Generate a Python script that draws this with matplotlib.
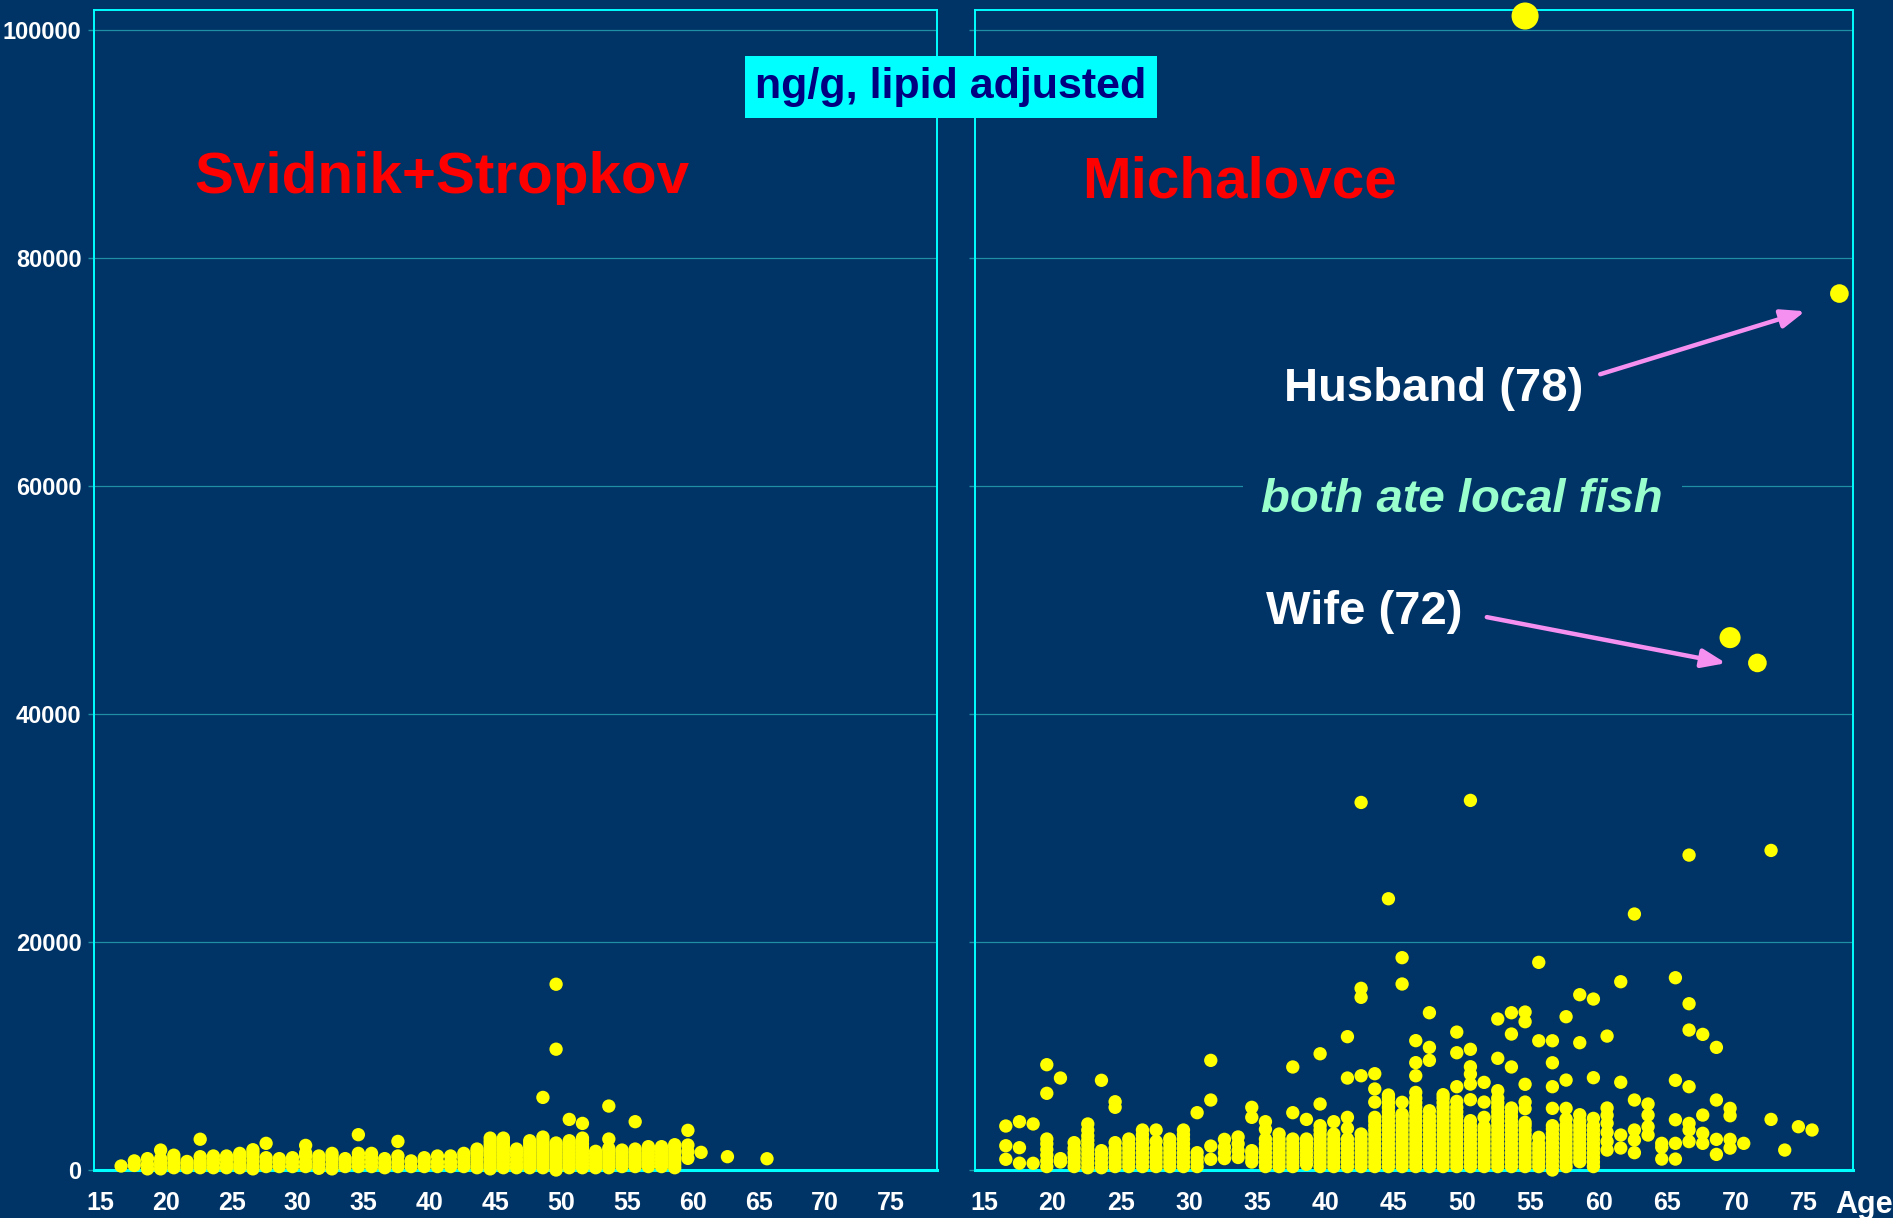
import numpy as np
import matplotlib
matplotlib.use('Agg')
import matplotlib.pyplot as plt
from matplotlib import font_manager as fm

# Fuente tipo Arial (Liberation Sans tiene las mismas metricas)
plt.rcParams['font.family'] = ['Liberation Sans', 'DejaVu Sans']

# version estrecha para los numeros del eje x, si esta instalada
_names = {f.name for f in fm.fontManager.ttflist}
NARROW = 'Liberation Sans Narrow' if 'Liberation Sans Narrow' in _names else None

# ---------------- datos ----------------
# Svidnik + Stropkov: edad y valores (ng/g lipidos) de cada columna
svid_ages = [17, 18, 19, 20, 21, 22, 23, 24, 25, 26, 27, 28, 29, 30, 31, 32, 33, 34,
             35, 36, 37, 38, 39, 40, 41, 42, 43, 44, 45, 46, 47, 48, 49, 50, 51, 52,
             53, 54, 55, 56, 57, 58, 59, 60, 61, 63, 66]
svid_vals = [
    [350],
    [400, 800],
    [100, 500, 1000],
    [100, 400, 700, 1000, 1750],
    [200, 600, 1000, 1300],
    [200, 500, 750],
    [200, 500, 800, 1170, 2700],
    [200, 600, 900, 1230],
    [200, 500, 900, 1230],
    [200, 500, 900, 1200, 1460],
    [100, 400, 800, 1200, 1500, 1780],
    [300, 700, 1080, 2340],
    [300, 700, 1000],
    [300, 700, 1080],
    [300, 700, 1200, 1500, 2160],
    [150, 500, 900, 1230],
    [100, 500, 900, 1200, 1460],
    [300, 700, 1000],
    [300, 700, 1100, 1460, 3100],
    [300, 700, 1100, 1460],
    [200, 600, 1000],
    [300, 700, 1230, 2510],
    [300, 800],
    [300, 700, 1080],
    [300, 700, 1230],
    [300, 700, 1230],
    [300, 700, 1100, 1460],
    [200, 500, 900, 1300, 1600, 1840],
    [100, 400, 700, 1000, 1300, 1600, 1900, 2200, 2500, 2800],
    [200, 500, 800, 1100, 1400, 1700, 2000, 2300, 2600, 2800],
    [200, 500, 900, 1300, 1600, 1840],
    [200, 500, 800, 1100, 1400, 1700, 2000, 2300, 2570],
    [200, 500, 800, 1100, 1400, 1700, 2000, 2300, 2600, 2890, 6370],
    [0, 300, 600, 900, 1200, 1500, 1800, 2100, 2370, 10600, 16300],
    [200, 500, 800, 1100, 1400, 1700, 2000, 2300, 2570, 4440],
    [200, 500, 800, 1100, 1400, 1700, 2000, 2300, 2600, 2800, 4090],
    [200, 500, 800, 1100, 1400, 1640],
    [200, 500, 800, 1100, 1400, 1700, 1900, 2720, 5610],
    [300, 600, 900, 1200, 1500, 1750],
    [300, 600, 900, 1200, 1500, 1840, 4240],
    [300, 600, 900, 1200, 1500, 1800, 2050],
    [300, 600, 900, 1200, 1500, 1800, 2050],
    [200, 500, 800, 1100, 1400, 1700, 2000, 2220],
    [1020, 1610, 2190, 3480],
    [1550],
    [1170],
    [990],
]

# Michalovce
mich_ages = [17, 18, 19, 20, 21, 22, 23, 24, 25, 26, 27, 28, 29, 30, 31, 32, 33, 34,
             35, 36, 37, 38, 39, 40, 41, 42, 43, 44, 45, 46, 47, 48, 49, 50, 51, 52,
             53, 54, 55, 56, 57, 58, 59, 60, 61, 62, 63, 64, 65, 66, 67, 68, 69, 70,
             71, 73, 74, 75, 76]
mich_vals = [
    [940, 2130, 3860],
    [600, 1960, 4240],
    [590, 4040],
    [300, 800, 1300, 1800, 2300, 2720, 6730, 9240],
    [700, 1000, 8070],
    [300, 700, 1100, 1500, 1900, 2400],
    [200, 600, 1000, 1400, 1800, 2200, 2600, 3000, 3500, 4040],
    [200, 600, 1000, 1400, 1700, 7870],
    [300, 700, 1100, 1500, 1900, 2400, 5500, 5990],
    [300, 700, 1100, 1500, 1900, 2300, 2720],
    [300, 700, 1100, 1500, 1900, 2300, 2700, 3100, 3510],
    [300, 700, 1100, 1500, 1900, 2500, 3510],
    [300, 700, 1100, 1500, 1900, 2300, 2720],
    [300, 700, 1100, 1500, 1900, 2300, 2700, 3100, 3510],
    [300, 700, 1100, 1520, 5030],
    [940, 2100, 6140, 9620],
    [1000, 1500, 2000, 2690],
    [1100, 1700, 2300, 2900],
    [700, 1100, 1500, 1700, 4620, 5500],
    [300, 700, 1100, 1500, 1900, 2300, 2720, 3570, 4240],
    [300, 700, 1100, 1500, 1900, 2300, 2700, 3160],
    [300, 700, 1100, 1500, 1900, 2300, 2720, 5030, 9040],
    [500, 900, 1300, 1700, 2100, 2400, 2720, 4440],
    [300, 700, 1100, 1500, 1900, 2300, 2700, 3100, 3500, 3890, 5790, 10200],
    [300, 700, 1100, 1500, 1900, 2300, 2700, 3160, 4240],
    [300, 700, 1100, 1500, 1900, 2300, 2720, 3660, 4620, 8070, 11700],
    [300, 700, 1100, 1500, 1900, 2300, 2700, 3160, 8270, 15150, 15940, 32250],
    [300, 700, 1100, 1500, 1900, 2300, 2700, 3100, 3500, 3900, 4300, 4620,
     5960, 7110, 8450],
    [300, 700, 1100, 1500, 1900, 2300, 2700, 3100, 3500, 3900, 4300, 4700,
     5100, 5500, 5900, 6300, 6580, 23800],
    [300, 700, 1100, 1500, 1900, 2300, 2700, 3100, 3500, 3900, 4300, 4700,
     4910, 5940, 16320, 18630],
    [300, 700, 1100, 1500, 1900, 2300, 2700, 3100, 3500, 3900, 4300, 4700,
     5100, 5500, 5900, 6300, 6810, 8270, 9420, 11350],
    [300, 700, 1100, 1500, 1900, 2300, 2700, 3100, 3500, 3900, 4300, 4700,
     5200, 9620, 10760, 13800],
    [300, 700, 1100, 1500, 1900, 2300, 2700, 3100, 3500, 3900, 4300, 4700,
     5100, 5500, 5900, 6300, 6610],
    [300, 700, 1100, 1500, 1900, 2300, 2700, 3100, 3500, 3900, 4300, 4700,
     5100, 5500, 6020, 7310, 10290, 12100],
    [300, 700, 1100, 1500, 1900, 2300, 2700, 3100, 3500, 3900, 4330, 6170,
     7540, 8420, 9060, 10590, 32430],
    [300, 700, 1100, 1500, 1900, 2300, 2700, 3100, 3500, 3800, 4620, 5960, 7690],
    [300, 700, 1100, 1500, 1900, 2300, 2700, 3100, 3500, 3900, 4300, 4700,
     5100, 5500, 5900, 6300, 6960, 9800, 13250],
    [300, 700, 1100, 1500, 1900, 2300, 2700, 3100, 3500, 3900, 4300, 4700,
     5100, 5440, 9040, 11930, 13800],
    [300, 700, 1100, 1500, 1900, 2300, 2700, 3100, 3500, 3900, 4180, 5380,
     5960, 7520, 13010, 13860],
    [300, 700, 1100, 1500, 1900, 2300, 2870, 11340, 18220],
    [0, 400, 800, 1200, 1600, 2000, 2400, 2800, 3200, 3600, 3890, 5410, 7310,
     9410, 11340],
    [300, 700, 1100, 1500, 1900, 2300, 2700, 3100, 3500, 3900, 4470, 5410,
     7890, 13450],
    [730, 1100, 1500, 1900, 2300, 2700, 3100, 3500, 3900, 4300, 4850, 11170,
     15380],
    [300, 700, 1100, 1500, 1900, 2300, 2700, 3100, 3500, 3900, 4530, 8100,
     15000],
    [1750, 2500, 3300, 4100, 4800, 5440, 11750],
    [1930, 3070, 7700, 16520],
    [1520, 2630, 3510, 6140, 22460],
    [3070, 3800, 4820, 5790],
    [960, 2000, 2340],
    [960, 2340, 4410, 7870, 16870],
    [2490, 3510, 4090, 7310, 12280, 14590, 27630],
    [2340, 3220, 4820, 11900],
    [1370, 2690, 6140, 10760],
    [1920, 2690, 4760, 5410],
    [2340],
    [4440, 28040],
    [1750],
    [3800],
    [3510],
]

# puntos destacados (mas grandes) en Michalovce
mich_big_ages = [55, 70, 72, 78]
mich_big_vals = [101250, 46710, 44490, 76900]

tick_ages = [15, 20, 25, 30, 35, 40, 45, 50, 55, 60, 65, 70, 75]
y_ticks = [0, 20000, 40000, 60000, 80000, 100000]

# ---------------- estilo ----------------
BG = '#003366'
FRAME = '#00FFFF'
GRID = '#1E8FA5'
YELLOW = '#FFFF00'
PINK = '#F590F0'

if NARROW:
    xfont = dict(family=[NARROW, 'Liberation Sans'], size=20, weight='bold')
    agefont = dict(family=[NARROW, 'Liberation Sans'], size=24, weight='bold')
else:
    xfont = dict(size=18, weight='bold')
    agefont = dict(size=22, weight='bold')


def flatten(ages, vals):
    """Convierte columnas (edad -> lista de valores) en pares x, y."""
    xs, ys = [], []
    for a, v in zip(ages, vals):
        xs += [a] * len(v)
        ys += v
    return xs, ys


def draw_panel(ax, ages, vals, xlim, show_ylabels):
    ax.set_facecolor(BG)
    xs, ys = flatten(ages, vals)
    ax.scatter(xs, ys, s=92, c=YELLOW, edgecolors='none', zorder=3, clip_on=False)

    ax.set_xlim(xlim)
    ax.set_ylim(0, 101800)

    # rejilla horizontal
    ax.set_yticks(y_ticks)
    ax.yaxis.grid(True, color=GRID, lw=0.9)
    ax.set_axisbelow(True)

    # etiquetas de edad ligeramente desplazadas a la derecha como en el original
    ax.set_xticks(np.array(tick_ages) + 0.4)
    ax.set_xticklabels([str(t) for t in tick_ages], fontdict=xfont)
    ax.tick_params(axis='x', length=0, pad=15, labelcolor='white')
    ax.tick_params(axis='y', length=4.5, width=1, color=GRID, pad=4.5,
                   labelcolor='white', labelsize=17)
    if show_ylabels:
        ax.set_yticklabels([str(v) for v in y_ticks], fontweight='bold')
    else:
        ax.set_yticklabels([])

    for side in ['left', 'right', 'top']:
        ax.spines[side].set_color(FRAME)
        ax.spines[side].set_linewidth(1.4)
    ax.spines['bottom'].set_color(FRAME)
    ax.spines['bottom'].set_linewidth(2.2)


fig = plt.figure(figsize=(18.93, 12.18), dpi=100, facecolor=BG)
ax1 = fig.add_axes([0.0497, 0.0394, 0.4453, 0.9526])
ax2 = fig.add_axes([0.5153, 0.0394, 0.4636, 0.9526])

draw_panel(ax1, svid_ages, svid_vals, (14.95, 78.9), True)
draw_panel(ax2, mich_ages, mich_vals, (14.78, 79.0), False)

# puntos grandes
ax2.scatter(mich_big_ages, mich_big_vals, s=[380, 230, 180, 180], c=YELLOW,
            edgecolors='none', zorder=4, clip_on=False)

# titulos de cada panel
ax1.text(41.35, 87050, 'Svidnik+Stropkov', color='red', fontsize=42,
         fontweight='bold', ha='center', va='center')
ax2.text(34.1, 86650, 'Michalovce', color='red', fontsize=42,
         fontweight='bold', ha='center', va='center')

# caja de unidades
fig.text(0.5024, 0.9285, 'ng/g, lipid adjusted', color='#000080', fontsize=31,
         fontweight='bold', ha='center', va='center',
         bbox=dict(boxstyle='square,pad=0.25', facecolor='#00FFFF', edgecolor='none'))

# anotaciones
ax2.text(48.3, 68500, 'Husband (78)', color='white', fontsize=34,
         fontweight='bold', ha='center', va='center')
ax2.text(50.4, 58750, 'both ate local fish', color='#99FFCC', fontsize=34,
         fontweight='bold', fontstyle='italic', ha='center', va='center',
         bbox=dict(boxstyle='square,pad=0.4', facecolor=BG, edgecolor='none'))
ax2.text(43.2, 48950, 'Wife (72)', color='white', fontsize=34,
         fontweight='bold', ha='center', va='center')

arrow = dict(arrowstyle='-|>,head_length=0.9,head_width=0.35', color=PINK,
             lw=3.2, mutation_scale=16, shrinkA=0, shrinkB=0)
ax2.annotate('', xy=(75.5, 75350), xytext=(60.5, 69820), arrowprops=arrow)
ax2.annotate('', xy=(69.7, 44470), xytext=(52.2, 48510), arrowprops=arrow)

fig.text(0.9847, 0.0105, 'Age', color='white', ha='center', va='center', **agefont)

fig.savefig('out.png', dpi=100, facecolor=BG)
